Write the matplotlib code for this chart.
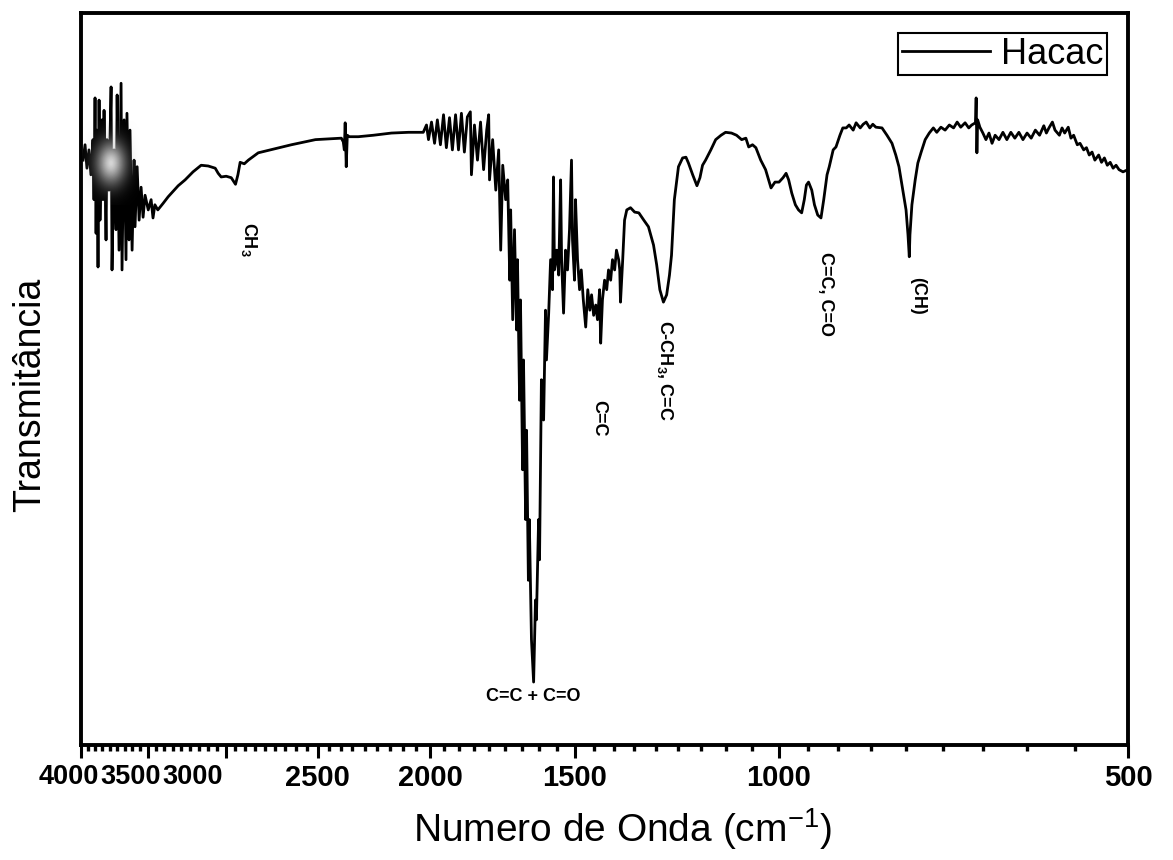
import numpy as np
import matplotlib
matplotlib.use('Agg')
import matplotlib.pyplot as plt
from matplotlib.ticker import FixedLocator, FixedFormatter, NullFormatter
from matplotlib.transforms import ScaledTranslation

plt.rcParams['font.family'] = ['Liberation Sans', 'DejaVu Sans']
plt.rcParams['mathtext.fontset'] = 'custom'
plt.rcParams['mathtext.rm'] = 'Liberation Sans'
plt.rcParams['mathtext.bf'] = 'Liberation Sans:bold'
plt.rcParams['mathtext.it'] = 'Liberation Sans:italic'

# FTIR spectrum of Hacac, read in four pieces (wavenumber in cm-1, transmittance in %)
wn_oh = [3984, 3968, 3953, 3937, 3922, 3906, 3898, 3890, 3882, 3875,
         3867, 3859, 3852, 3837, 3829, 3821, 3806, 3799, 3784, 3768,
         3761, 3746, 3731, 3723, 3709, 3694, 3687, 3672, 3658, 3651,
         3636, 3629, 3614, 3600, 3593, 3578, 3564, 3550, 3536, 3522,
         3500, 3480, 3467, 3454, 3434]
t_oh = [79.9, 82.0, 78.8, 81.3, 77.9, 82.7, 74.5, 88.4, 69.9, 84.0,
        65.3, 88.1, 71.7, 85.4, 74.5, 86.7, 69.0, 82.7, 75.8, 89.9,
        64.9, 81.3, 70.4, 88.8, 67.6, 90.4, 64.9, 85.4, 66.3, 86.3,
        69.0, 84.0, 67.6, 79.9, 70.8, 79.0, 71.7, 76.2, 72.1, 75.1,
        73.1, 74.5, 72.0, 73.8, 73.1]

wn_ch = [3398, 3364, 3298, 3253, 3202, 3151, 3107, 3064, 3046, 3028,
         2998, 2968, 2943, 2929, 2916, 2892, 2869, 2813, 2730, 2634,
         2511, 2447, 2385, 2376, 2371, 2367, 2362, 2357, 2348, 2306,
         2238, 2159, 2087, 2047]
t_ch = [74.0, 74.9, 76.4, 77.2, 78.3, 79.2, 79.1, 78.8, 78.1, 77.6,
        77.7, 77.5, 76.6, 77.9, 79.6, 79.4, 79.9, 80.9, 81.4, 82.0,
        82.7, 82.8, 82.9, 82.4, 81.3, 85.0, 79.0, 83.3, 83.1, 83.1,
        83.3, 83.6, 83.7, 83.7]

wn_co = [2027, 2014, 2006, 1994, 1982, 1971, 1959, 1947, 1936, 1924,
         1913, 1901, 1890, 1879, 1868, 1857, 1846, 1842, 1831, 1820,
         1809, 1798, 1787, 1780, 1777, 1766, 1755, 1745, 1738, 1731,
         1721, 1714, 1707, 1704, 1697, 1691, 1684, 1681, 1674, 1671,
         1664, 1661, 1654, 1651, 1645, 1642, 1635, 1628, 1625, 1622,
         1619, 1612, 1609, 1603, 1596, 1590, 1587, 1580, 1574, 1568,
         1565, 1562, 1555, 1549, 1543, 1540, 1534, 1528, 1522, 1516,
         1510, 1507, 1501, 1498, 1492, 1486, 1481, 1475, 1468, 1462,
         1456, 1451, 1445, 1439, 1434, 1428, 1425, 1420, 1414, 1408,
         1403, 1397, 1392, 1386, 1381, 1375, 1372, 1370, 1364, 1359]
t_co = [83.7, 84.7, 82.7, 85.1, 82.2, 85.4, 82.0, 86.1, 81.6, 85.7,
        81.3, 86.1, 81.3, 86.3, 81.0, 85.8, 86.5, 77.9, 84.7, 79.9,
        85.1, 78.6, 84.0, 86.1, 77.2, 82.7, 75.8, 81.3, 67.6, 79.2,
        74.5, 77.2, 63.5, 73.1, 58.1, 70.4, 56.7, 66.3, 47.1, 60.8,
        37.6, 52.6, 30.8, 43.0, 22.5, 30.8, 14.4, 8.6, 14.4, 19.8,
        17.1, 30.8, 25.3, 49.9, 44.4, 59.4, 52.6, 59.0, 66.3, 62.2,
        77.6, 64.9, 67.6, 64.2, 77.2, 66.3, 59.0, 67.6, 64.9, 70.4,
        79.9, 69.0, 63.5, 74.5, 66.3, 62.2, 64.9, 60.8, 57.1, 62.2,
        59.4, 61.5, 58.7, 60.1, 58.1, 62.2, 54.9, 60.8, 63.5, 62.2,
        64.9, 63.5, 66.3, 64.9, 67.6, 66.3, 64.9, 60.5, 66.3, 71.7]

wn_fp = [1353, 1343, 1332, 1321, 1308, 1296, 1283, 1275, 1267, 1258,
         1250, 1243, 1238, 1231, 1221, 1211, 1203, 1197, 1187, 1177,
         1170, 1164, 1157, 1145, 1134, 1122, 1112, 1099, 1088, 1077,
         1068, 1062, 1054, 1047, 1037, 1027, 1016, 1008, 1000, 992,
         986, 981, 975, 968, 962, 956, 951, 947, 943, 937,
         932, 926, 920, 915, 909, 905, 898, 893, 886, 881,
         875, 870, 863, 858, 851, 846, 841, 835, 830, 825,
         815, 807, 799, 793, 788, 782, 777, 774, 772, 771,
         768, 763, 759, 754, 748, 742, 736, 731, 725, 719,
         713, 707, 702, 697, 691, 686, 682, 677, 676, 675,
         674, 671, 667, 663, 659, 655, 651, 646, 641, 636,
         631, 626, 621, 616, 611, 606, 601, 596, 591, 588,
         585, 581, 578, 573, 570, 567, 563, 560, 557, 553,
         550, 546, 543, 540, 537, 534, 530, 527, 524, 521,
         518, 515, 512, 509, 505, 500]
t_fp = [73.1, 73.4, 72.8, 72.7, 71.7, 70.8, 68.3, 65.6, 62.2, 60.5,
        61.5, 64.2, 66.9, 74.5, 79.0, 80.2, 80.3, 79.5, 77.9, 76.4,
        77.5, 79.2, 79.9, 81.3, 82.7, 83.3, 83.7, 83.6, 83.3, 82.7,
        82.9, 81.7, 82.0, 81.6, 79.9, 78.6, 76.1, 76.9, 76.9, 77.5,
        78.1, 77.2, 75.4, 73.8, 73.1, 72.7, 74.5, 76.5, 76.9, 75.8,
        73.8, 72.4, 72.0, 74.5, 77.9, 79.0, 81.3, 81.7, 83.3, 84.3,
        84.3, 84.7, 84.0, 85.0, 84.3, 84.8, 85.1, 84.3, 84.8, 84.4,
        84.3, 83.3, 82.2, 80.6, 79.0, 75.8, 73.1, 69.7, 66.7, 69.7,
        73.8, 77.2, 79.5, 81.0, 82.7, 83.6, 84.3, 83.7, 84.4, 84.0,
        84.7, 84.3, 85.1, 84.4, 85.0, 84.3, 84.7, 85.0, 88.4, 80.9,
        85.4, 84.4, 83.6, 82.7, 83.6, 82.2, 83.3, 82.7, 83.7, 82.7,
        83.7, 82.9, 83.7, 82.7, 83.6, 82.9, 84.0, 83.3, 84.6, 83.6,
        84.3, 85.1, 84.0, 83.3, 84.3, 83.6, 84.4, 82.9, 83.3, 82.0,
        82.2, 81.3, 81.6, 80.6, 81.0, 79.9, 80.6, 79.6, 80.2, 79.2,
        79.6, 78.8, 79.2, 78.6, 78.3, 78.6]

# band assignments written on the spectrum
band_labels = ['CH$_\\mathbf{3}$', 'C=C', 'C-CH$_\\mathbf{3}$, C=C', 'C=C, C=O', '(CH)']
band_wn = [2863, 1431, 1254, 911, 760]
band_top = [71.4, 47.1, 58.1, 67.3, 63.9]
main_label = 'C=C + C=O'
main_wn = 1628

tick_values = [4000, 3500, 3000, 2500, 2000, 1500, 1000, 500]
tick_labels = ['4000', '3500', '3000', '2500', '2000', '1500', '1000', '500']
# eight minor ticks inside every 500 cm-1 step
minor_values = [lo + k * 500 / 9 for lo in range(500, 4000, 500) for k in range(1, 9)]

wavenumber = wn_oh + wn_ch + wn_co + wn_fp
transmittance = t_oh + t_ch + t_co + t_fp

fig = plt.figure(figsize=(11.73, 8.6), dpi=100)
ax = fig.add_axes([81 / 1173, 1 - 745 / 860, 1047 / 1173, 732 / 860])

ax.plot(wavenumber, transmittance, color='black', lw=2.0, label='Hacac')

ax.set_xscale('log')
ax.set_xlim(4000, 500)
ax.set_ylim(0, 100)
ax.xaxis.set_major_locator(FixedLocator(tick_values))
ax.xaxis.set_major_formatter(FixedFormatter(tick_labels))
ax.xaxis.set_minor_locator(FixedLocator(minor_values))
ax.xaxis.set_minor_formatter(NullFormatter())
ax.set_yticks([])
ax.tick_params(axis='x', which='major', direction='out', length=9, width=2.2,
               labelsize=21, pad=5)
ax.tick_params(axis='x', which='minor', direction='out', length=4, width=2.4)
for side in ['left', 'right', 'top', 'bottom']:
    ax.spines[side].set_linewidth(2.8)

ax.set_xlabel('Numero de Onda (cm$^{\\mathregular{-1}}$)', fontsize=28, labelpad=10, x=0.517)
ax.set_ylabel('Transmitância', fontsize=27, labelpad=24, y=0.478)

# band labels
for s, w, t in zip(band_labels, band_wn, band_top):
    ax.text(w, t, s, rotation=-90, ha='center', va='top', fontsize=13,
            fontweight='bold')
ax.text(main_wn, 6.6, main_label, ha='center', va='center', fontsize=13,
        fontweight='bold')

leg = ax.legend(loc='upper right', bbox_to_anchor=(0.980, 0.9727), borderaxespad=0,
                fontsize=26, frameon=True, fancybox=False, edgecolor='black',
                framealpha=1, handlelength=2.45, handletextpad=0.3, borderpad=0.1)
leg.get_frame().set_linewidth(1.5)

# the three crowded labels at the high-wavenumber end sit left of their ticks
fig.canvas.draw()
shifts = {'4000': -12, '3500': -18, '3000': -33}
for lbl in ax.get_xticklabels():
    lbl.set_fontweight('bold')
    dx = shifts.get(lbl.get_text(), 0)
    if dx:
        lbl.set_fontsize(19.5)
        lbl.set_transform(lbl.get_transform() + ScaledTranslation(dx / 100, 0, fig.dpi_scale_trans))

# bright glare over the noisy O-H region
gx, gy = np.meshgrid(np.linspace(-1, 1, 120), np.linspace(-1, 1, 160))
r = np.sqrt(gx ** 2 + gy ** 2)
glare = np.zeros((160, 120, 4))
shade = np.clip(0.95 - 0.35 * r, 0, 1)
glare[..., 0] = shade
glare[..., 1] = shade
glare[..., 2] = shade
glare[..., 3] = np.clip(0.9 * np.exp(-(r / 0.55) ** 2), 0, 1)
gax = fig.add_axes([82 / 1173, 1 - 205 / 860, 58 / 1173, 84 / 860])
gax.imshow(glare, aspect='auto')
gax.axis('off')

fig.savefig('out.png', dpi=100)
